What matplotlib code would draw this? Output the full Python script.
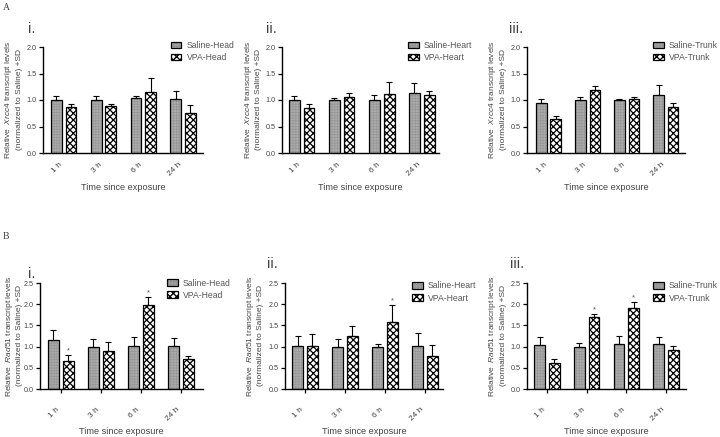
import numpy as np
import matplotlib
matplotlib.use('Agg')
import matplotlib.pyplot as plt
from matplotlib.transforms import ScaledTranslation

plt.rcParams['font.family'] = ['Liberation Sans', 'DejaVu Sans']
plt.rcParams['mathtext.fontset'] = 'custom'
plt.rcParams['mathtext.it'] = 'Liberation Sans:italic'
plt.rcParams['mathtext.rm'] = 'Liberation Sans'

# ---------------- data ----------------
times = ['1 h', '3 h', '6 h', '24 h']

# A: Xrcc4
xrcc4_head_saline = [1.00, 1.00, 1.03, 1.01]
xrcc4_head_saline_sd = [0.07, 0.07, 0.04, 0.16]
xrcc4_head_vpa = [0.86, 0.89, 1.16, 0.76]
xrcc4_head_vpa_sd = [0.07, 0.03, 0.26, 0.15]

xrcc4_heart_saline = [1.00, 1.00, 1.00, 1.13]
xrcc4_heart_saline_sd = [0.08, 0.04, 0.09, 0.19]
xrcc4_heart_vpa = [0.85, 1.06, 1.11, 1.10]
xrcc4_heart_vpa_sd = [0.07, 0.07, 0.23, 0.07]

xrcc4_trunk_saline = [0.95, 1.00, 1.00, 1.10]
xrcc4_trunk_saline_sd = [0.06, 0.05, 0.01, 0.18]
xrcc4_trunk_vpa = [0.64, 1.18, 1.01, 0.86]
xrcc4_trunk_vpa_sd = [0.05, 0.08, 0.05, 0.08]

# B: Rad51
rad51_head_saline = [1.15, 1.00, 1.01, 1.01]
rad51_head_saline_sd = [0.25, 0.19, 0.21, 0.19]
rad51_head_vpa = [0.66, 0.90, 1.99, 0.71]
rad51_head_vpa_sd = [0.15, 0.22, 0.17, 0.08]
rad51_head_sig = [1, 0, 1, 0]

rad51_heart_saline = [1.01, 1.00, 1.00, 1.02]
rad51_heart_saline_sd = [0.25, 0.17, 0.05, 0.31]
rad51_heart_vpa = [1.02, 1.26, 1.59, 0.79]
rad51_heart_vpa_sd = [0.27, 0.23, 0.40, 0.24]
rad51_heart_sig = [0, 0, 1, 0]

rad51_trunk_saline = [1.04, 1.00, 1.07, 1.07]
rad51_trunk_saline_sd = [0.18, 0.09, 0.17, 0.15]
rad51_trunk_vpa = [0.61, 1.70, 1.91, 0.91]
rad51_trunk_vpa_sd = [0.09, 0.07, 0.15, 0.11]
rad51_trunk_sig = [0, 1, 1, 0]

no_sig = [0, 0, 0, 0]

# ---------------- figure ----------------
W, H = 720, 437
fig = plt.figure(figsize=(7.2, 4.37), dpi=100)
TXT = '#444444'


def add_axes_px(x0, x1, ytop, ybot):
    return fig.add_axes([x0 / W, 1 - ybot / H, (x1 - x0) / W, (ybot - ytop) / H])


def draw(rect, xlim, gene, tissue, sal, sal_sd, vpa, vpa_sd, sig, ymax,
         ticklen, tickpad, xlabel_top, leg_xy, roman, roman_xy, ylab_off):
    x0, x1, ytop, ybot = rect
    ax = add_axes_px(x0, x1, ytop, ybot)
    x = np.arange(len(times))
    off, w = 0.185, 0.27
    sal = np.array(sal); vpa = np.array(vpa)
    sal_sd = np.array(sal_sd); vpa_sd = np.array(vpa_sd)

    with plt.rc_context({'hatch.linewidth': 0.45}):
        sf = ax.bar(x - off, sal, w, color='#ababab', hatch='++++++',
                    edgecolor='#959595', linewidth=0, zorder=2)
    se = ax.bar(x - off, sal, w, facecolor='none', edgecolor='k',
                linewidth=0.9, zorder=3)
    with plt.rc_context({'hatch.linewidth': 0.9}):
        vb = ax.bar(x + off, vpa, w, facecolor='white', hatch='xxxxx',
                    edgecolor='k', linewidth=0.9, zorder=3)
    ax.errorbar(x - off, sal, yerr=[np.zeros_like(sal_sd), sal_sd], fmt='none',
                ecolor='k', elinewidth=0.8, capsize=2.2, capthick=0.8, zorder=4)
    ax.errorbar(x + off, vpa, yerr=[np.zeros_like(vpa_sd), vpa_sd], fmt='none',
                ecolor='k', elinewidth=0.8, capsize=2.2, capthick=0.8, zorder=4)
    for i, s in enumerate(sig):
        if s:
            ax.annotate('*', xy=(x[i] + off, vpa[i] + vpa_sd[i]), xytext=(0, 0.5),
                        textcoords='offset points', ha='center', va='bottom',
                        fontsize=5.5, color='#555555')

    ax.set_xlim(*xlim)
    ax.set_ylim(0, ymax)
    ax.set_yticks(np.arange(0, ymax + 0.01, 0.5))
    ax.set_yticklabels(['%.1f' % v for v in np.arange(0, ymax + 0.01, 0.5)])
    ax.set_xticks(x)
    ax.set_xticklabels(times, rotation=45, ha='right')
    for lab in ax.get_xticklabels():
        lab.set_transform(lab.get_transform() + ScaledTranslation(-0.07, 0, fig.dpi_scale_trans))
    for sp in ['top', 'right']:
        ax.spines[sp].set_visible(False)
    for sp in ['left', 'bottom']:
        ax.spines[sp].set_linewidth(1.0)
    ax.tick_params(axis='y', direction='out', length=3, width=0.9, labelsize=5.2,
                   labelcolor=TXT, pad=1.5)
    ax.tick_params(axis='x', direction='out', length=ticklen, width=0.9,
                   labelsize=6, labelcolor=TXT, pad=tickpad)

    ax.set_ylabel('Relative  $\\it{%s}$ transcript levels\n(normalized to Saline) +SD' % gene,
                  fontsize=6.0, color=TXT, linespacing=1.3)
    axw = x1 - x0
    axh = ybot - ytop
    ax.yaxis.set_label_coords(-ylab_off / axw, 0.5)
    ax.set_xlabel('Time since exposure', fontsize=6.6, color=TXT)
    ax.xaxis.set_label_coords(0.5, -(xlabel_top - ybot) / axh)

    leg = ax.legend([(sf[0], se[0]), vb[0]], ['Saline-%s' % tissue, 'VPA-%s' % tissue],
                    loc='upper left', bbox_to_anchor=(leg_xy[0] / W, 1 - leg_xy[1] / H),
                    bbox_transform=fig.transFigure, frameon=False, fontsize=6.2,
                    handlelength=1.25, handleheight=0.7, handletextpad=0.6,
                    labelspacing=0.35, borderpad=0, borderaxespad=0)
    for t in leg.get_texts():
        t.set_color('#555555')

    fig.text(roman_xy[0] / W, 1 - roman_xy[1] / H, roman, fontsize=10.5,
             color='#444444', va='baseline', ha='left')
    return ax


A_top, A_bot = 47, 153
B_top, B_bot = 283, 389

draw((43, 203, A_top, A_bot), (-0.52, 3.50), 'Xrcc4', 'Head',
     xrcc4_head_saline, xrcc4_head_saline_sd, xrcc4_head_vpa, xrcc4_head_vpa_sd,
     no_sig, 2.0, 0, 6.0, 183, (170.7, 41), 'i.', (28, 33), 20)
draw((282, 439, A_top, A_bot), (-0.49, 3.43), 'Xrcc4', 'Heart',
     xrcc4_heart_saline, xrcc4_heart_saline_sd, xrcc4_heart_vpa, xrcc4_heart_vpa_sd,
     no_sig, 2.0, 0, 6.0, 183, (408, 41), 'ii.', (266, 33), 20)
draw((527, 685, A_top, A_bot), (-0.55, 3.49), 'Xrcc4', 'Trunk',
     xrcc4_trunk_saline, xrcc4_trunk_saline_sd, xrcc4_trunk_vpa, xrcc4_trunk_vpa_sd,
     no_sig, 2.0, 0, 6.0, 183, (653, 41), 'iii.', (509, 33), 20)

draw((40, 203, B_top, B_bot), (-0.52, 3.55), 'Rad51', 'Head',
     rad51_head_saline, rad51_head_saline_sd, rad51_head_vpa, rad51_head_vpa_sd,
     rad51_head_sig, 2.5, 3, 9.0, 427, (167, 278.5), 'i.', (28, 278), 16.5)
draw((285, 443, B_top, B_bot), (-0.50, 3.45), 'Rad51', 'Heart',
     rad51_heart_saline, rad51_heart_saline_sd, rad51_heart_vpa, rad51_heart_vpa_sd,
     rad51_heart_sig, 2.5, 3, 9.0, 427, (412, 281.5), 'ii.', (267, 268), 21)
draw((527, 686, B_top, B_bot), (-0.50, 3.50), 'Rad51', 'Trunk',
     rad51_trunk_saline, rad51_trunk_saline_sd, rad51_trunk_vpa, rad51_trunk_vpa_sd,
     rad51_trunk_sig, 2.5, 3, 9.0, 427, (653, 281.5), 'iii.', (510, 268), 20)

fig.text(3 / W, 1 - 10 / H, 'A', fontsize=7, family=['Liberation Serif', 'DejaVu Serif'],
         color='#444444', va='baseline')
fig.text(3 / W, 1 - 239 / H, 'B', fontsize=7, family=['Liberation Serif', 'DejaVu Serif'],
         color='#444444', va='baseline')

fig.savefig('out.png', dpi=100)
